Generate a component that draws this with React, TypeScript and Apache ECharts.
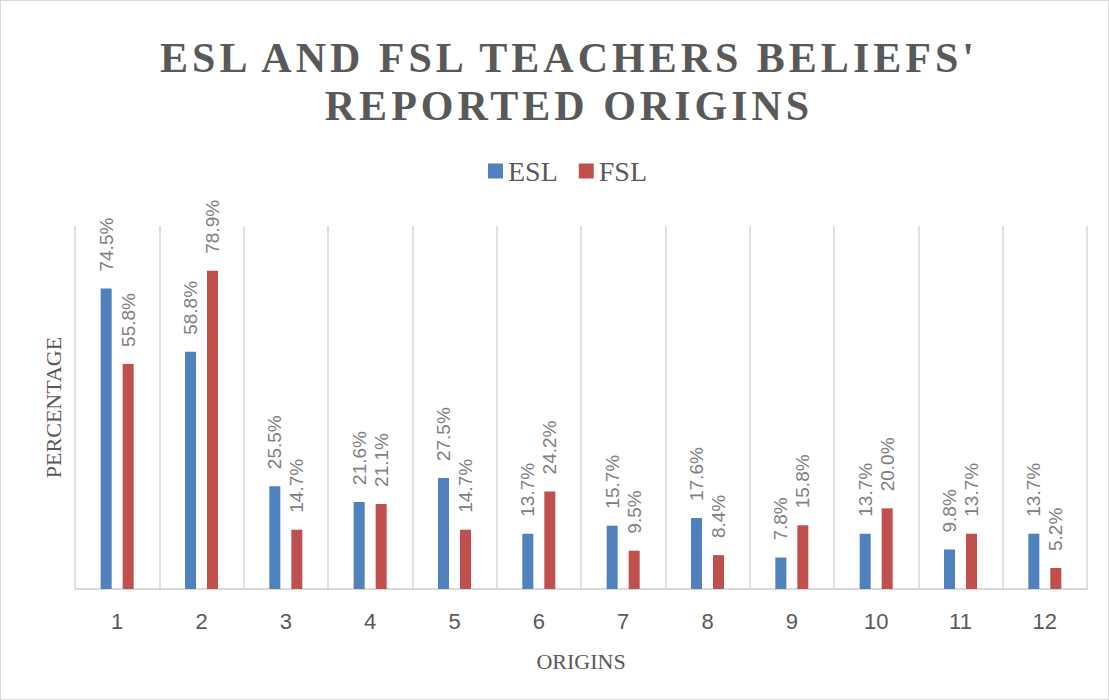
import React, { useEffect, useRef } from "react";
import * as echarts from "echarts";

const categories = ["1", "2", "3", "4", "5", "6", "7", "8", "9", "10", "11", "12"];
const eslValues = [74.5, 58.8, 25.5, 21.6, 27.5, 13.7, 15.7, 17.6, 7.8, 13.7, 9.8, 13.7];
const fslValues = [55.8, 78.9, 14.7, 21.1, 14.7, 24.2, 9.5, 8.4, 15.8, 20.0, 13.7, 5.2];
const seriesNames = ["ESL", "FSL"];
const titleLines = ["ESL AND FSL TEACHERS BELIEFS'", "REPORTED ORIGINS"];

export default function App() {
  const ref = useRef<HTMLDivElement>(null);
  useEffect(() => {
    if (!ref.current) return;
    const el = ref.current;
    const chart = echarts.init(el, null, { renderer: "svg" });
    const label = {
      show: true,
      position: "top",
      rotate: 90,
      align: "left",
      verticalAlign: "middle",
      distance: 17,
      color: "#808080",
      fontFamily: "Liberation Sans, sans-serif",
      fontSize: 19,
      formatter: (p: any) => Number(p.value).toFixed(1) + "%",
    };
    const spaceTitle = () => {
      el.querySelectorAll("text").forEach((t) => {
        if (titleLines.includes((t.textContent || "").trim())) {
          t.setAttribute("letter-spacing", "4");
        }
      });
    };
    chart.on("rendered", spaceTitle);
    chart.setOption({
      animation: false,
      backgroundColor: "#ffffff",
      title: {
        text: titleLines.join("\n"),
        left: 563,
        textAlign: "center",
        top: 28,
        textStyle: {
          fontFamily: "Liberation Serif, serif",
          fontWeight: "bold",
          fontSize: 42,
          lineHeight: 48,
          color: "#595959",
        },
      },
      legend: {
        data: seriesNames,
        top: 151,
        left: 482,
        icon: "rect",
        itemWidth: 15,
        itemHeight: 15,
        itemGap: 21,
        textStyle: {
          fontFamily: "Liberation Serif, serif",
          fontSize: 28,
          color: "#595959",
        },
      },
      grid: { left: 74, right: 21, top: 225, bottom: 110, containLabel: false },
      xAxis: {
        type: "category",
        data: categories,
        boundaryGap: true,
        name: "ORIGINS",
        nameLocation: "middle",
        nameGap: 61,
        nameTextStyle: {
          fontFamily: "Liberation Serif, serif",
          fontSize: 22,
          color: "#595959",
        },
        axisLine: { show: true, lineStyle: { color: "#d9d9d9", width: 2 } },
        axisTick: { show: false },
        axisLabel: {
          margin: 21,
          fontFamily: "Liberation Sans, sans-serif",
          fontSize: 22,
          color: "#595959",
        },
        splitLine: { show: true, lineStyle: { color: "#d9d9d9", width: 1.5 } },
      },
      yAxis: {
        type: "value",
        min: 0,
        max: 90,
        name: "PERCENTAGE",
        nameLocation: "middle",
        nameGap: 11,
        nameRotate: 90,
        nameTextStyle: {
          fontFamily: "Liberation Serif, serif",
          fontSize: 22,
          color: "#595959",
        },
        axisLine: { show: false },
        axisTick: { show: false },
        axisLabel: { show: false },
        splitLine: { show: false },
      },
      series: [
        {
          name: seriesNames[0],
          type: "bar",
          data: eslValues,
          barWidth: 11,
          barGap: "100%",
          itemStyle: { color: "#4f81bd" },
          label,
        },
        {
          name: seriesNames[1],
          type: "bar",
          data: fslValues,
          barWidth: 11,
          barGap: "100%",
          itemStyle: { color: "#c0504d" },
          label,
        },
      ],
    });
    spaceTitle();
    return () => chart.dispose();
  }, []);
  return (
    <div
      ref={ref}
      style={{
        position: "fixed",
        left: 0,
        top: 0,
        width: 1109,
        height: 700,
        boxSizing: "border-box",
        border: "1px solid #d9d9d9",
      }}
    />
  );
}
